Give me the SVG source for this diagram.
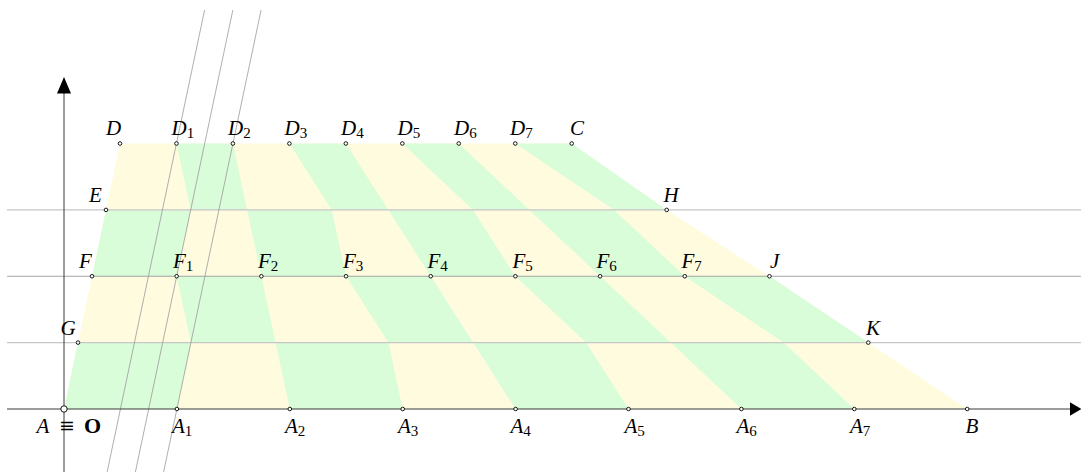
<svg xmlns="http://www.w3.org/2000/svg" width="1081" height="472" viewBox="0 0 1081 472">
<style>
.y{fill:#fffbdf}
.g{fill:#d9fcd9}
.hl{stroke:#c6c6c6;stroke-width:1.3;fill:none}
.hd{stroke:#a4a4a4;stroke-width:1;fill:none}
.sl{stroke:#9a9a9a;stroke-width:0.8;fill:none}
.ax{stroke:#3a3a3a;stroke-width:1;fill:none}
.ah{fill:#000}
.pt{fill:#fff;stroke:#000;stroke-width:0.9}
.lbl{font-family:"Liberation Serif",serif;font-size:21px;font-style:italic;fill:#000}
.sub{font-size:15px;font-style:normal}
.up{font-family:"DejaVu Serif","Liberation Serif",serif;font-size:19px;fill:#000}
.bd{font-family:"Liberation Serif",serif;font-size:22px;font-weight:bold;fill:#000}
</style>
<g id="fill">
<polygon class="y" points="120,143.5 571.7,143.5 666.7,209.9 769.45,276.25 868.3,342.6 967.2,409 64,409 78,342.6 92,276.25 106,209.9"/>
<path class="g" d="M176.46,143.5 L232.93,143.5 L247.14,209.9 L190.67,209.9 Z
M289.39,143.5 L345.85,143.5 L388.29,209.9 L331.82,209.9 Z
M402.31,143.5 L458.78,143.5 L529.43,209.9 L472.96,209.9 Z
M515.24,143.5 L571.7,143.5 L666.7,209.9 L614.1,209.9 Z
M106,209.9 L190.67,209.9 L176.68,276.25 L92,276.25 Z
M247.14,209.9 L331.82,209.9 L346.04,276.25 L261.36,276.25 Z
M388.29,209.9 L472.96,209.9 L515.41,276.25 L430.73,276.25 Z
M529.43,209.9 L614.1,209.9 L684.77,276.25 L600.09,276.25 Z
M176.68,276.25 L261.36,276.25 L275.58,342.6 L190.89,342.6 Z
M346.04,276.25 L430.73,276.25 L473.16,342.6 L388.47,342.6 Z
M515.41,276.25 L600.09,276.25 L670.75,342.6 L586.05,342.6 Z
M684.77,276.25 L769.45,276.25 L868.3,342.6 L783.63,342.6 Z
M78,342.6 L190.89,342.6 L176.9,409 L64,409 Z
M275.58,342.6 L388.47,342.6 L402.7,409 L289.8,409 Z
M473.16,342.6 L586.05,342.6 L628.5,409 L515.6,409 Z
M670.75,342.6 L783.63,342.6 L854.3,409 L741.4,409 Z"/>
</g>
<g id="connectors">
<line class="hl" x1="7" y1="209.9" x2="1081" y2="209.9"/>
<line class="hd" x1="7" y1="276.25" x2="1081" y2="276.25"/>
<line class="hl" x1="7" y1="342.6" x2="1081" y2="342.6"/>
<line class="sl" x1="204.6" y1="10" x2="107.14" y2="472"/>
<line class="sl" x1="232.86" y1="10" x2="135.38" y2="472"/>
<line class="sl" x1="261.1" y1="10" x2="163.6" y2="472"/>
<line class="ax" x1="64" y1="472" x2="64" y2="92"/>
<polygon class="ah" points="64,77 71,93.5 57,93.5"/>
<line class="ax" x1="7" y1="409" x2="1071" y2="409"/>
<polygon class="ah" points="1081.5,409 1070,402.2 1070,415.8"/>
</g>
<g id="nD"><circle class="pt" cx="120" cy="143.5" r="1.8"/><text class="lbl" x="106" y="135">D</text></g>
<g id="nD1"><circle class="pt" cx="176.46" cy="143.5" r="1.8"/><text class="lbl" x="171.5" y="135">D<tspan class="sub" dy="3">1</tspan></text></g>
<g id="nD2"><circle class="pt" cx="232.93" cy="143.5" r="1.8"/><text class="lbl" x="228" y="135">D<tspan class="sub" dy="3">2</tspan></text></g>
<g id="nD3"><circle class="pt" cx="289.39" cy="143.5" r="1.8"/><text class="lbl" x="284.5" y="135">D<tspan class="sub" dy="3">3</tspan></text></g>
<g id="nD4"><circle class="pt" cx="345.85" cy="143.5" r="1.8"/><text class="lbl" x="341" y="135">D<tspan class="sub" dy="3">4</tspan></text></g>
<g id="nD5"><circle class="pt" cx="402.31" cy="143.5" r="1.8"/><text class="lbl" x="397.5" y="135">D<tspan class="sub" dy="3">5</tspan></text></g>
<g id="nD6"><circle class="pt" cx="458.78" cy="143.5" r="1.8"/><text class="lbl" x="454" y="135">D<tspan class="sub" dy="3">6</tspan></text></g>
<g id="nD7"><circle class="pt" cx="515.24" cy="143.5" r="1.8"/><text class="lbl" x="510" y="135">D<tspan class="sub" dy="3">7</tspan></text></g>
<g id="nC"><circle class="pt" cx="571.7" cy="143.5" r="1.8"/><text class="lbl" x="570" y="135">C</text></g>
<g id="nE"><circle class="pt" cx="106" cy="209.9" r="1.8"/><text class="lbl" x="89" y="201.5">E</text></g>
<g id="nH"><circle class="pt" cx="666.7" cy="209.9" r="1.8"/><text class="lbl" x="663.5" y="201.5">H</text></g>
<g id="nF"><circle class="pt" cx="92" cy="276.25" r="1.8"/><text class="lbl" x="79" y="268">F</text></g>
<g id="nF1"><circle class="pt" cx="176.68" cy="276.25" r="1.8"/><text class="lbl" x="173" y="268">F<tspan class="sub" dy="3">1</tspan></text></g>
<g id="nF2"><circle class="pt" cx="261.36" cy="276.25" r="1.8"/><text class="lbl" x="258" y="268">F<tspan class="sub" dy="3">2</tspan></text></g>
<g id="nF3"><circle class="pt" cx="346.04" cy="276.25" r="1.8"/><text class="lbl" x="343" y="268">F<tspan class="sub" dy="3">3</tspan></text></g>
<g id="nF4"><circle class="pt" cx="430.73" cy="276.25" r="1.8"/><text class="lbl" x="427.5" y="268">F<tspan class="sub" dy="3">4</tspan></text></g>
<g id="nF5"><circle class="pt" cx="515.41" cy="276.25" r="1.8"/><text class="lbl" x="512.5" y="268">F<tspan class="sub" dy="3">5</tspan></text></g>
<g id="nF6"><circle class="pt" cx="600.09" cy="276.25" r="1.8"/><text class="lbl" x="596.5" y="268">F<tspan class="sub" dy="3">6</tspan></text></g>
<g id="nF7"><circle class="pt" cx="684.77" cy="276.25" r="1.8"/><text class="lbl" x="681.5" y="268">F<tspan class="sub" dy="3">7</tspan></text></g>
<g id="nJ"><circle class="pt" cx="769.45" cy="276.25" r="1.8"/><text class="lbl" x="770" y="268">J</text></g>
<g id="nG"><circle class="pt" cx="78" cy="342.6" r="1.8"/><text class="lbl" x="60.5" y="335">G</text></g>
<g id="nK"><circle class="pt" cx="868.3" cy="342.6" r="1.8"/><text class="lbl" x="866" y="335">K</text></g>
<g id="nA"><circle class="pt" cx="64" cy="409" r="3.2"/><text class="lbl" x="36.5" y="432.5">A</text><text class="up" x="67" y="432" text-anchor="middle">≡</text><text class="bd" x="84" y="432.5">O</text></g>
<g id="nA1"><circle class="pt" cx="176.9" cy="409" r="1.8"/><text class="lbl" x="172" y="432.5">A<tspan class="sub" dy="3">1</tspan></text></g>
<g id="nA2"><circle class="pt" cx="289.8" cy="409" r="1.8"/><text class="lbl" x="285" y="432.5">A<tspan class="sub" dy="3">2</tspan></text></g>
<g id="nA3"><circle class="pt" cx="402.7" cy="409" r="1.8"/><text class="lbl" x="398" y="432.5">A<tspan class="sub" dy="3">3</tspan></text></g>
<g id="nA4"><circle class="pt" cx="515.6" cy="409" r="1.8"/><text class="lbl" x="510.5" y="432.5">A<tspan class="sub" dy="3">4</tspan></text></g>
<g id="nA5"><circle class="pt" cx="628.5" cy="409" r="1.8"/><text class="lbl" x="624.5" y="432.5">A<tspan class="sub" dy="3">5</tspan></text></g>
<g id="nA6"><circle class="pt" cx="741.4" cy="409" r="1.8"/><text class="lbl" x="736.5" y="432.5">A<tspan class="sub" dy="3">6</tspan></text></g>
<g id="nA7"><circle class="pt" cx="854.3" cy="409" r="1.8"/><text class="lbl" x="850" y="432.5">A<tspan class="sub" dy="3">7</tspan></text></g>
<g id="nB"><circle class="pt" cx="967.2" cy="409" r="1.8"/><text class="lbl" x="965.5" y="432.5">B</text></g>
</svg>
